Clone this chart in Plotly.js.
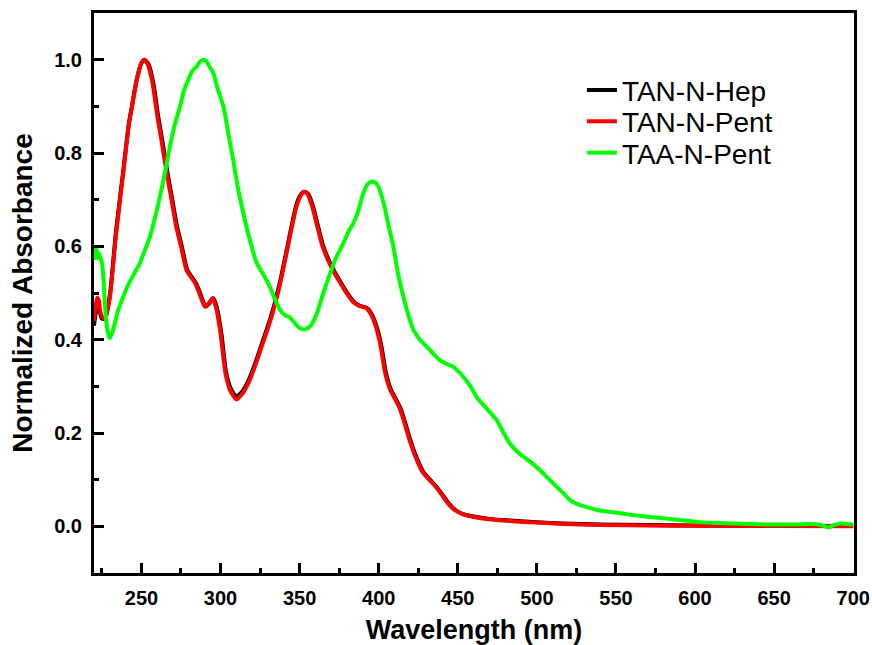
<!DOCTYPE html>
<html>
<head>
<meta charset="utf-8">
<script src="https://cdn.plot.ly/plotly-3.0.1.min.js"></script>
<style>html,body{margin:0;padding:0;background:#fff;}#chart{width:872px;height:645px;}</style>
</head>
<body>
<div id="chart"></div>
<script>
// TAN-N-Pent (red)
const redX = [220,221,222,223,224,225,227,230,234,238.5,242,244,247,250,252,254,257,260,263,266,269,272,275,278.5,282,284,287,290,292.5,295,297,300,303,306,310,314,318,322,326,330,334,338,342,345,348,351,353,355,358,361,364,368,372,376,380,384,388,392,395,398,401,404,407,410,413,416,419,422,425,428,432,436,440,444,448,453,460,470,485,500,517,540,570,600,650,700];
const redY = [0.44,0.47,0.49,0.485,0.46,0.45,0.445,0.49,0.628,0.757,0.86,0.90,0.957,0.993,1.0,0.99,0.95,0.88,0.82,0.757,0.70,0.642,0.60,0.549,0.531,0.521,0.496,0.471,0.478,0.489,0.471,0.414,0.33,0.292,0.272,0.285,0.31,0.345,0.385,0.425,0.47,0.525,0.59,0.64,0.685,0.71,0.717,0.712,0.685,0.645,0.605,0.57,0.543,0.52,0.498,0.48,0.472,0.468,0.455,0.43,0.39,0.33,0.295,0.275,0.255,0.225,0.19,0.16,0.135,0.115,0.10,0.085,0.067,0.048,0.035,0.026,0.02,0.015,0.011,0.008,0.005,0.003,0.002,0.001,0.0005,0.0];
// TAN-N-Hep (black)
const blackX = [220,221,222,223,224,225,227,230,234,238.5,242,244,247,250,252,254.5,257.5,260.5,263.5,266.5,269.5,272.5,275.5,279,282.5,284.5,287.5,290.5,293,295.5,297.5,300.5,303.5,306.5,310,314,318,322,326,330,334,338,342,345,348,351,353,355.5,358.5,361.5,364.5,368.5,372.5,376.5,380.5,384.5,388.5,392.5,395.5,398.5,401.5,404.5,407.5,410.5,413.5,416.5,419.5,422.5,425.5,428.5,432.5,436.5,440.5,444.5,448.5,453.5,460,470,485,500,517,540,570,600,650,700];
const blackY = [0.43,0.455,0.47,0.47,0.455,0.445,0.445,0.495,0.635,0.762,0.862,0.90,0.957,0.993,1.0,0.99,0.95,0.88,0.82,0.757,0.70,0.642,0.60,0.549,0.531,0.521,0.496,0.471,0.478,0.489,0.471,0.414,0.33,0.295,0.278,0.29,0.315,0.35,0.39,0.43,0.475,0.53,0.595,0.645,0.69,0.712,0.717,0.712,0.685,0.645,0.605,0.57,0.543,0.52,0.498,0.48,0.472,0.468,0.455,0.43,0.39,0.33,0.295,0.275,0.255,0.225,0.19,0.16,0.135,0.115,0.10,0.085,0.067,0.048,0.035,0.026,0.021,0.016,0.012,0.009,0.006,0.004,0.003,0.002,0.001,0.0005];
// TAA-N-Pent (green)
const greenX = [220,220.7,221.5,222.3,223,224,225,226,227,228.5,230,232,235,238.5,242,246,249,252,255.4,258.5,261.7,265,268,271,274.4,277,279.6,282,285,287,289,291,293,295.5,298,301.8,305,308,311,314.4,318,322.9,327,331,334,337.6,341,344,347,350,353.5,357,360.9,365,369.3,373,377.7,381,384,387,390.3,393,396,399,401.5,404,406.5,409.3,412,415.6,419,422,426,430.4,435,439,443,447,450,453.6,458,462,468,474.7,479,483,487,491.5,497,502,507,512.7,517,521,526,531.6,538,546,553,561,571,582,592,603,614,624,635,645,656,666,673,679,684.5,688,692,696,700];
const greenY = [0.60,0.575,0.595,0.575,0.585,0.575,0.565,0.53,0.47,0.42,0.403,0.42,0.46,0.492,0.52,0.545,0.564,0.59,0.621,0.66,0.707,0.76,0.814,0.86,0.90,0.935,0.957,0.975,0.986,0.996,1.0,0.997,0.985,0.971,0.94,0.90,0.84,0.785,0.725,0.671,0.62,0.564,0.54,0.515,0.49,0.464,0.452,0.447,0.435,0.425,0.422,0.43,0.456,0.50,0.542,0.575,0.607,0.632,0.65,0.675,0.714,0.733,0.739,0.733,0.712,0.68,0.64,0.599,0.545,0.492,0.45,0.421,0.40,0.385,0.368,0.355,0.348,0.342,0.333,0.32,0.30,0.277,0.253,0.227,0.20,0.177,0.162,0.149,0.135,0.12,0.103,0.084,0.07,0.056,0.047,0.041,0.035,0.031,0.028,0.024,0.02,0.0165,0.013,0.009,0.007,0.006,0.005,0.004,0.004,0.004,0.005,0.003,-0.002,0.003,0.006,0.005,0.004];

const names = ['TAN-N-Hep','TAN-N-Pent','TAA-N-Pent'];
const colors = ['#000000','#ff0000','#00ff00'];
const legendIds = ['legend','legend2','legend3'];
const legendRowsY = [0.862, 0.806, 0.750];
const xTickVals = [250,300,350,400,450,500,550,600,650,700];
const yTickVals = [0.0,0.2,0.4,0.6,0.8,1.0];
const yTickText = ['0.0','0.2','0.4','0.6','0.8','1.0'];

const series = [[blackX,blackY],[redX,redY],[greenX,greenY]];
const data = series.map((s,i)=>({
  x: s[0], y: s[1], name: names[i], type: 'scatter', mode: 'lines', legend: legendIds[i],
  line: {color: colors[i], width: 4, shape: 'spline', smoothing: 0.6}
}));

const fontFam = '"Liberation Sans", Arial, sans-serif';
const layout = {
  width: 872, height: 645,
  margin: {l: 94, r: 18, t: 13, b: 72},
  paper_bgcolor: '#fff', plot_bgcolor: '#fff',
  showlegend: true,
  xaxis: {
    range: [220, 700.5], showgrid: false, zeroline: false,
    tickvals: xTickVals, ticks: 'inside', ticklen: 10, tickwidth: 3, tickcolor: '#000',
    minor: {dtick: 25, tick0: 225, ticks: 'inside', ticklen: 5, tickwidth: 3, tickcolor: '#000'},
    showline: true, linecolor: '#000', linewidth: 3, mirror: true,
    tickfont: {family: fontFam, size: 20, color: '#000', weight: 'bold'},
    ticklabelstandoff: 5,
    title: {text: '<b>Wavelength (nm)</b>', font: {family: fontFam, size: 27, color: '#000'}, standoff: 14}
  },
  yaxis: {
    range: [-0.1, 1.1], showgrid: false, zeroline: false,
    tickvals: yTickVals, ticktext: yTickText, ticks: 'inside', ticklen: 10, tickwidth: 3, tickcolor: '#000',
    minor: {dtick: 0.1, tick0: 0.1, ticks: 'inside', ticklen: 5, tickwidth: 3, tickcolor: '#000'},
    showline: true, linecolor: '#000', linewidth: 3, mirror: true,
    tickfont: {family: fontFam, size: 20, color: '#000', weight: 'bold'},
    ticklabelstandoff: 5,
    title: {text: '<b>Normalized Absorbance</b>', font: {family: fontFam, size: 28, color: '#000'}, standoff: 14}
  }
};
legendIds.forEach((id,i)=>{
  layout[id] = {x: 0.642, y: legendRowsY[i], xanchor: 'left', yanchor: 'middle', bgcolor: 'rgba(0,0,0,0)',
    font: {family: fontFam, size: 28, color: '#000'}};
});
Plotly.newPlot('chart', data, layout, {displayModeBar: false, staticPlot: true});
</script>
</body>
</html>
